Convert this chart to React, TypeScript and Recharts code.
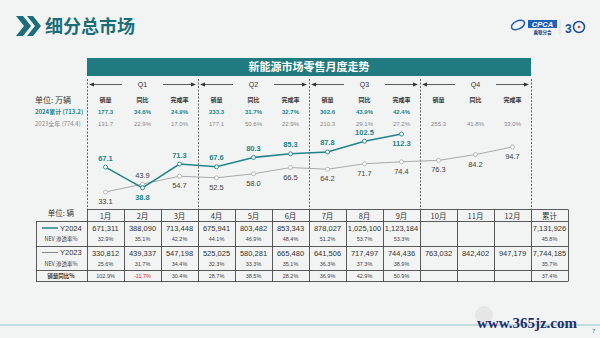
import { LineChart, Line, XAxis, YAxis } from "recharts";

const months = ["1月", "2月", "3月", "4月", "5月", "6月", "7月", "8月", "9月", "10月", "11月", "12月"];
const retail2024 = [67.1, 38.8, 71.3, 67.6, 80.3, 85.3, 87.8, 102.5, 112.3, null, null, null];
const retail2023 = [33.1, 43.9, 54.7, 52.5, 58.0, 66.5, 64.2, 71.7, 74.4, 76.3, 84.2, 94.7];
const side2024 = ["up", "down", "up", "up", "up", "up", "up", "up", "down"];
const side2023 = ["down", "up", "down", "down", "down", "down", "down", "down", "down", "down", "down", "down"];

const quarters = ["Q1", "Q2", "Q3", "Q4"];
const qSales2024 = ["177.3", "233.3", "302.6", ""];
const qYoy2024 = ["34.6%", "31.7%", "43.9%", ""];
const qDone2024 = ["24.9%", "32.7%", "42.4%", ""];
const qSales2023 = ["131.7", "177.1", "210.3", "255.3"];
const qYoy2023 = ["22.9%", "50.6%", "29.1%", "41.8%"];
const qDone2023 = ["17.0%", "22.9%", "27.2%", "33.0%"];

const tableCols = [...months, "累计"];
const units2024 = ["671,311", "388,090", "713,448", "675,941", "803,482", "853,343", "878,027", "1,025,100", "1,123,184", "", "", "", "7,131,926"];
const nev2024 = ["32.9%", "35.1%", "42.2%", "44.1%", "46.9%", "48.4%", "51.2%", "53.7%", "53.3%", "", "", "", "45.8%"];
const units2023 = ["330,812", "439,337", "547,198", "525,025", "580,281", "665,480", "641,506", "717,497", "744,436", "763,032", "842,402", "947,179", "7,744,185"];
const nev2023 = ["25.6%", "31.7%", "34.4%", "32.3%", "33.3%", "35.1%", "36.3%", "37.3%", "38.9%", "", "", "", "35.7%"];
const salesYoy = ["102.9%", "-11.7%", "30.4%", "28.7%", "38.5%", "28.2%", "36.9%", "42.9%", "50.9%", "", "", "", "37.4%"];

const TEAL = "#23858c";
const DARK_TEAL = "#1b6e78";
const GRAY = "#a9a9a9";
const NUM_FONT = "'Liberation Sans', Arial, sans-serif";
const CJK_FONT = "'Noto Sans CJK SC', 'Liberation Sans', sans-serif";

const data = months.map((m, i) => ({ month: m, y2024: retail2024[i], y2023: retail2023[i] }));

function makeLabel(sides: string[], color: string, bold: boolean) {
  return (props: any) => {
    const { x, y, value, index } = props;
    if (value == null || x == null) return null;
    const below = sides[index] === "down";
    return (
      <text
        x={x}
        y={below ? y + 12 : y - 6.5}
        textAnchor="middle"
        fontSize={7.5}
        fontFamily={NUM_FONT}
        fontWeight={bold ? 700 : 400}
        fill={color}
      >
        {Number(value).toFixed(1)}
      </text>
    );
  };
}

function Decorations() {
  const qLeft = (q: number) => 87 + 111 * q;
  const colX = (c: number) => 87 + 37 * c + 18.5;
  const rowsX = [36, 568];
  return (
    <svg width={600} height={338} style={{ position: "absolute", left: 0, top: 0 }}>
      <rect x={0} y={0} width={600} height={338} fill="#f2f3f3" />
      {/* header */}
      <polygon points="16,16 23,16 31,26 23,36 16,36 24,26" fill={DARK_TEAL} />
      <polygon points="27,16 33,16 41,26 33,36 27,36 35,26" fill={DARK_TEAL} />
      <text x={45} y={33} fontSize={18} fontWeight={700} fill={DARK_TEAL} fontFamily={CJK_FONT}>
        细分总市场
      </text>
      <g fontFamily={NUM_FONT}>
        <ellipse cx={518} cy={25} rx={7} ry={4} fill="none" stroke="#2a5db0" strokeWidth={1.5} transform="rotate(-25 518 25)" />
        <rect x={528} y={20} width={29} height={8} fill="#1f5fb5" />
        <text x={542.5} y={26.5} textAnchor="middle" fontSize={7.5} fontStyle="italic" fontWeight={700} fill="#fff">CPCA</text>
        <text x={542.5} y={34} textAnchor="middle" fontSize={4.5} fontWeight={700} fill="#1f3f7a" fontFamily={CJK_FONT}>乘联分会</text>
        <line x1={560} y1={20} x2={560} y2={34} stroke="#ccc" strokeWidth={0.6} />
        <text x={565} y={33} fontSize={12} fontWeight={700} fill="#1f4f95">3</text>
        <circle cx={579} cy={27} r={5.5} fill="none" stroke="#1f4f95" strokeWidth={1.5} />
        <circle cx={579} cy={27} r={1.3} fill="#d44" />
      </g>
      {/* banner */}
      <rect x={87} y={58} width={444} height={18} fill="#1f7b80" />
      <text x={309} y={71} textAnchor="middle" fontSize={11} fontWeight={700} fill="#fff" fontFamily={CJK_FONT}>
        新能源市场零售月度走势
      </text>
      {/* quarter dividers */}
      {[0, 1, 2, 3, 4].map((k) => (
        <line key={k} x1={qLeft(k) + 0.5} y1={79} x2={qLeft(k) + 0.5} y2={209} stroke="#444" strokeWidth={0.8} strokeDasharray="2 1.5" />
      ))}
      {quarters.map((q, i) => {
        const l = qLeft(i);
        return (
          <g key={q} fontFamily={NUM_FONT}>
            <line x1={l + 6} y1={84.5} x2={l + 35} y2={84.5} stroke="#333" strokeWidth={0.8} />
            <polygon points={`${l + 2},84.5 ${l + 7},82.5 ${l + 7},86.5`} fill="#333" />
            <text x={l + 55.5} y={87} textAnchor="middle" fontSize={7} fill="#333">{q}</text>
            <line x1={l + 76} y1={84.5} x2={l + 105} y2={84.5} stroke="#333" strokeWidth={0.8} />
            <polygon points={`${l + 109},84.5 ${l + 104},82.5 ${l + 104},86.5`} fill="#333" />
            {["销量", "同比", "完成率"].map((h, j) => (
              <text key={h} x={l + 18.5 + 37 * j} y={102} textAnchor="middle" fontSize={6} fontWeight={700} fill="#333" fontFamily={CJK_FONT}>{h}</text>
            ))}
            {[qSales2024[i], qYoy2024[i], qDone2024[i]].map((v, j) => (
              <text key={"a" + j} x={l + 18.5 + 37 * j} y={114} textAnchor="middle" fontSize={6} fontWeight={700} fill={TEAL}>{v}</text>
            ))}
            {[qSales2023[i], qYoy2023[i], qDone2023[i]].map((v, j) => (
              <text key={"b" + j} x={l + 18.5 + 37 * j} y={126} textAnchor="middle" fontSize={6} fill="#888">{v}</text>
            ))}
          </g>
        );
      })}
      <text x={35} y={103} fontSize={8} fill="#333" fontFamily={CJK_FONT}>单位: 万辆</text>
      <text x={35} y={114} fontSize={6} fontWeight={700} fill={TEAL} fontFamily={CJK_FONT}>2024累计  (713.2)</text>
      <text x={35} y={126} fontSize={6} fill="#888" fontFamily={CJK_FONT}>2023全年  (774.4)</text>
      {/* table grid */}
      <g stroke="#333" strokeWidth={0.8}>
        <line x1={87} y1={209.5} x2={568} y2={209.5} />
        {[221.5, 246.5, 270.5, 281.5].map((y) => (
          <line key={y} x1={rowsX[0]} y1={y} x2={rowsX[1]} y2={y} />
        ))}
        <line x1={36.5} y1={221.5} x2={36.5} y2={281.5} />
        {Array.from({ length: 14 }, (_, k) => (
          <line key={k} x1={87 + 37 * k + 0.5} y1={209.5} x2={87 + 37 * k + 0.5} y2={281.5} />
        ))}
      </g>
      <g fontFamily={CJK_FONT}>
        <text x={61} y={216} textAnchor="middle" fontSize={7.5} fill="#333">单位: 辆</text>
        <line x1={42} y1={228} x2={58} y2={228} stroke={TEAL} strokeWidth={1.5} />
        <text x={60} y={230.5} fontSize={7.5} fill="#333" fontFamily={NUM_FONT}>Y2024</text>
        <text x={61} y={241} textAnchor="middle" fontSize={5.5} fill="#444">NEV 渗透率%</text>
        <line x1={42} y1={252.5} x2={58} y2={252.5} stroke="#888" strokeWidth={1} />
        <text x={60} y={255} fontSize={7.5} fill="#333" fontFamily={NUM_FONT}>Y2023</text>
        <text x={61} y={266} textAnchor="middle" fontSize={5.5} fill="#444">NEV 渗透率%</text>
        <text x={61} y={278} textAnchor="middle" fontSize={5.5} fontWeight={700} fill="#333">销量同比%</text>
      </g>
      <g fontFamily={NUM_FONT} textAnchor="middle">
        {tableCols.map((c, i) => (
          <g key={c}>
            <text x={colX(i)} y={218.5} fontSize={7.5} fill="#333" fontFamily={CJK_FONT}>{c}</text>
            <text x={colX(i)} y={231} fontSize={7.5} fill="#333">{units2024[i]}</text>
            <text x={colX(i)} y={241} fontSize={5.5} fill="#444">{nev2024[i]}</text>
            <text x={colX(i)} y={255.5} fontSize={7.5} fill="#333">{units2023[i]}</text>
            <text x={colX(i)} y={266} fontSize={5.5} fill="#444">{nev2023[i]}</text>
            <text x={colX(i)} y={278} fontSize={5.5} fill={salesYoy[i].startsWith("-") ? "#e02020" : "#444"}>{salesYoy[i]}</text>
          </g>
        ))}
      </g>
      {/* footer */}
      <line x1={0} y1={325} x2={600} y2={325} stroke="#8fc6c6" strokeWidth={1.2} />
      <text x={592} y={333} fontSize={6} fill={TEAL} fontFamily={NUM_FONT}>7</text>
      <circle cx={484} cy={315} r={9} fill="#e2e2e2" opacity={0.8} />
      <text x={477} y={328} fontSize={15} fontWeight={700} fill="#1c2f6e" fontFamily="'Liberation Serif', serif">www.365jz.com</text>
    </svg>
  );
}

export default function App() {
  return (
    <div style={{ position: "absolute", left: 0, top: 0, width: 600, height: 338, overflow: "hidden" }}>
      <Decorations />
      <div style={{ position: "absolute", left: 0, top: 0, pointerEvents: "none" }}>
        <LineChart width={600} height={338} data={data} margin={{ top: 128.4, right: 87.5, bottom: 136.4, left: 105.5 }}>
          <XAxis dataKey="month" hide padding={{ left: 0, right: 0 }} />
          <YAxis hide domain={[20, 120]} />
          <Line
            dataKey="y2023"
            stroke={GRAY}
            strokeWidth={1}
            dot={{ r: 2, stroke: GRAY, strokeWidth: 0.8, fill: "#fff" }}
            isAnimationActive={false}
            label={makeLabel(side2023, "#444", false)}
          />
          <Line
            dataKey="y2024"
            stroke={TEAL}
            strokeWidth={1.6}
            dot={{ r: 2, stroke: TEAL, strokeWidth: 0.9, fill: "#fff" }}
            isAnimationActive={false}
            connectNulls={false}
            label={makeLabel(side2024, TEAL, true)}
          />
        </LineChart>
      </div>
    </div>
  );
}
